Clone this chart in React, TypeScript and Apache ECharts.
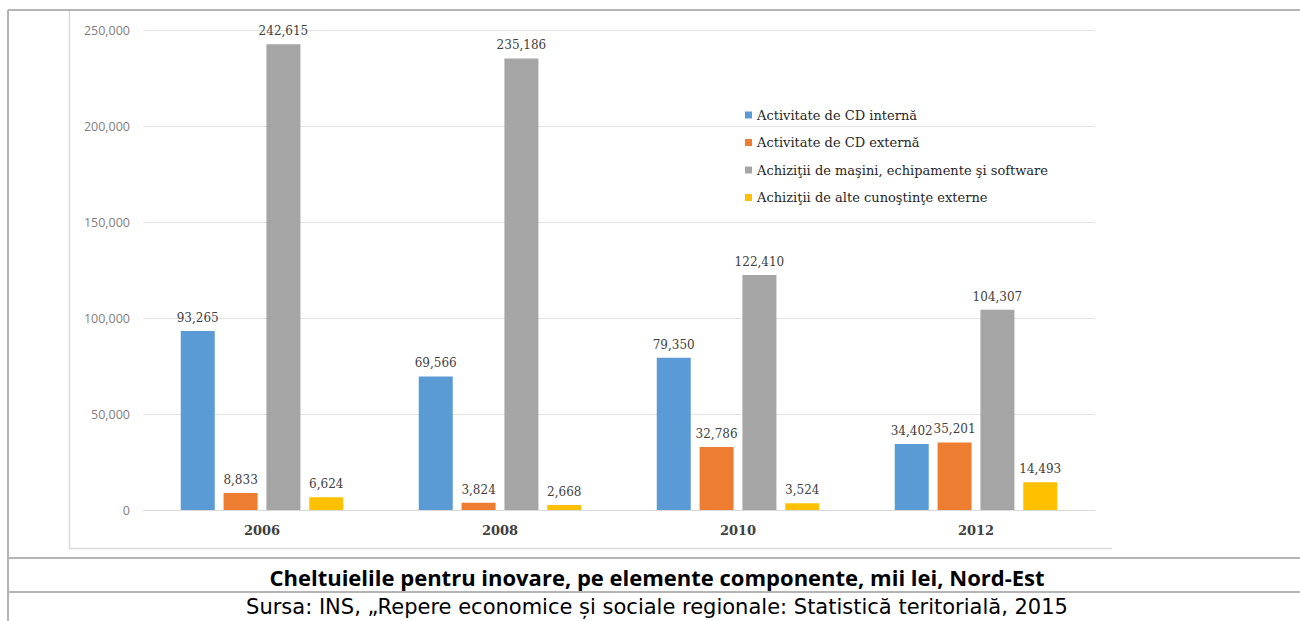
import React, { useEffect, useRef } from "react";
import * as echarts from "echarts";

const categories = ["2006", "2008", "2010", "2012"];
const seriesNames = [
  "Activitate de CD internă",
  "Activitate de CD externă",
  "Achiziţii de maşini, echipamente şi software",
  "Achiziţii de alte cunoştinţe externe",
];
const cdInterna = [93265, 69566, 79350, 34402];
const cdExterna = [8833, 3824, 32786, 35201];
const masini = [242615, 235186, 122410, 104307];
const alteCunostinte = [6624, 2668, 3524, 14493];
const colors = ["#5B9BD5", "#ED7D31", "#A5A5A5", "#FFC000"];
const captionText = "Cheltuielile pentru inovare, pe elemente componente, mii lei, Nord-Est";
const sourceText = "Sursa: INS, „Repere economice și sociale regionale: Statistică teritorială, 2015";

export default function App() {
  const ref = useRef<HTMLDivElement>(null);
  useEffect(() => {
    if (!ref.current) return;
    const chart = echarts.init(ref.current, null, { renderer: "svg" });
    const values = [cdInterna, cdExterna, masini, alteCunostinte];
    const tableLine = { stroke: "#b4b4b4", lineWidth: 2 };
    chart.setOption({
      animation: false,
      backgroundColor: "#ffffff",
      color: colors,
      grid: { left: 143, right: 205, top: 30, bottom: 111, containLabel: false },
      legend: {
        orient: "vertical",
        left: 740,
        top: 103,
        itemWidth: 7,
        itemHeight: 7,
        itemGap: 13.5,
        icon: "rect",
        data: seriesNames,
        textStyle: { fontFamily: "DejaVu Serif", fontSize: 13, color: "#262626", lineHeight: 14 },
      },
      xAxis: {
        type: "category",
        data: categories,
        axisTick: { show: false },
        axisLine: { lineStyle: { color: "#d9d9d9" } },
        axisLabel: {
          fontFamily: "DejaVu Serif",
          fontWeight: "bold",
          fontSize: 13,
          color: "#404040",
          margin: 14,
        },
      },
      yAxis: {
        type: "value",
        min: 0,
        max: 250000,
        interval: 50000,
        axisLine: { show: false },
        axisTick: { show: false },
        splitLine: { lineStyle: { color: "#e3e3e3" } },
        axisLabel: {
          fontFamily: "Open Sans",
          fontSize: 12.5,
          color: "#808080",
          margin: 13,
          formatter: (v: number) => v.toLocaleString("en-US"),
        },
      },
      series: values.map((d, i) => ({
        name: seriesNames[i],
        type: "bar",
        data: d,
        barWidth: 34,
        barGap: "26%",
        label: {
          show: true,
          position: "top",
          distance: 7,
          fontFamily: "DejaVu Serif",
          fontSize: 12,
          color: "#404040",
          formatter: (p: any) => Number(p.value).toLocaleString("en-US"),
        },
      })),
      graphic: [
        {
          type: "polyline",
          shape: { points: [[69.5, 11], [69.5, 548.5], [1112, 548.5]] },
          style: { stroke: "#d9d9d9", lineWidth: 1.5, fill: null },
          silent: true,
        },
        { type: "line", shape: { x1: 8, y1: 10, x2: 1300, y2: 10 }, style: tableLine, silent: true },
        { type: "line", shape: { x1: 8, y1: 10, x2: 8, y2: 621 }, style: tableLine, silent: true },
        { type: "line", shape: { x1: 8, y1: 558, x2: 1300, y2: 558 }, style: tableLine, silent: true },
        { type: "line", shape: { x1: 8, y1: 592, x2: 1300, y2: 592 }, style: tableLine, silent: true },
        {
          type: "text",
          x: 657,
          y: 577,
          style: {
            text: captionText,
            fontFamily: "Open Sans",
            fontWeight: "bold",
            fontSize: 22,
            fill: "#000000",
            align: "center",
            verticalAlign: "middle",
          },
        },
        {
          type: "text",
          x: 657,
          y: 607,
          style: {
            text: sourceText,
            fontFamily: "DejaVu Sans",
            fontSize: 21,
            fill: "#000000",
            align: "center",
            verticalAlign: "middle",
          },
        },
      ],
    });
    return () => chart.dispose();
  }, []);
  return (
    <div
      ref={ref}
      style={{ position: "fixed", left: 0, top: 0, width: 1300, height: 621, background: "#fff" }}
    />
  );
}
